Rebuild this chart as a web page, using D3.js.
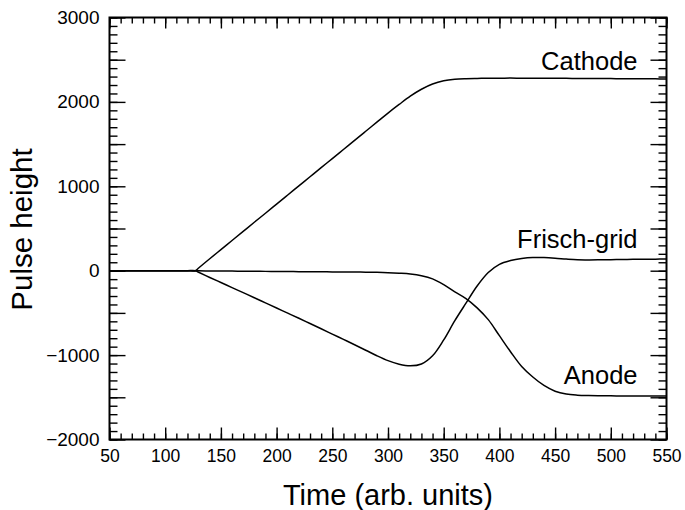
<!DOCTYPE html>
<html>
<head>
<meta charset="utf-8">
<script src="https://cdn.jsdelivr.net/npm/d3@7"></script>
<style>
  html, body { margin: 0; padding: 0; background: #fff; }
  svg { display: block; }
  text { font-family: "Liberation Sans", Arial, Helvetica, sans-serif; fill: #000; }
</style>
</head>
<body>
<svg id="chart" width="685" height="510"></svg>
<script>
// ---- Data ----
const time = [50, 60, 70, 80, 90, 100, 110, 120, 127, 130, 140, 150, 160, 170, 180, 190, 200,
  210, 220, 230, 240, 250, 260, 270, 280, 290, 300, 310, 320, 330, 340, 350, 360, 370, 380,
  390, 400, 410, 420, 430, 440, 450, 460, 470, 480, 490, 500, 510, 520, 530, 540, 550];

const cathode = [0, 0, 0, 0, 0, 0, 0, 0, 0, 32, 142, 250, 358, 466, 574, 681, 789,
  897, 1005, 1113, 1221, 1328, 1436, 1544, 1652, 1760, 1868, 1970, 2068, 2150, 2212, 2250, 2268, 2275, 2278,
  2280, 2281, 2282, 2281, 2280, 2280, 2279, 2279, 2278, 2277, 2277, 2276, 2275, 2275, 2274, 2273, 2272];

const frischGrid = [0, 0, 0, 0, 0, 0, 0, 0, 0, -18, -80, -140, -200, -260, -320, -381, -442,
  -503, -564, -626, -688, -751, -814, -877, -942, -1008, -1066, -1108, -1127, -1105, -1008, -820, -592, -385, -182,
  -22, 75, 120, 145, 157, 155, 148, 138, 130, 128, 129, 131, 133, 135, 136, 137, 138];

const anode = [0, 0, 0, 0, 0, 0, 0, 0, 0, -1, -3, -4, -5, -6, -7, -8, -9,
  -10, -11, -12, -13, -14, -15, -16, -17, -19, -23, -30, -40, -60, -97, -165, -250, -330, -440,
  -580, -770, -960, -1135, -1260, -1360, -1428, -1462, -1475, -1480, -1482, -1483, -1484, -1485, -1485, -1486, -1486];

const seriesNames = ["Cathode", "Frisch-grid", "Anode"];
const seriesValues = [cathode, frischGrid, anode];
const labelTime = [524, 524, 524];
const labelValue = [2378, 265, -1342];

const xMajorTicks = [50, 100, 150, 200, 250, 300, 350, 400, 450, 500, 550];
const yMajorTicks = [-2000, -1500, -1000, -500, 0, 500, 1000, 1500, 2000, 2500, 3000];
const yLabelTicks = [-2000, -1000, 0, 1000, 2000, 3000];

const xTitle = "Time (arb. units)";
const yTitle = "Pulse height";

// ---- Layout ----
const svg = d3.select("#chart");
const L = 109.5, R = 666.5, T = 17.5, B = 439.5;

const x = d3.scaleLinear().domain([50, 550]).range([L, R]);
const y = d3.scaleLinear().domain([-2000, 3000]).range([B, T]);

const xMinor = d3.range(50, 551, 10);
const yMinor = d3.range(-2000, 3001, 100);
const fmt = d3.format("d");

function styleAxis(g) {
  g.select(".domain").remove();
  g.selectAll(".tick line").attr("stroke", "#000").attr("stroke-width", 1.4);
}

// Bottom axis
svg.append("g").attr("transform", `translate(0,${B})`)
  .call(d3.axisBottom(x).tickValues(xMinor).tickSize(-6).tickFormat(""))
  .call(styleAxis);
svg.append("g").attr("transform", `translate(0,${B})`)
  .call(d3.axisBottom(x).tickValues(xMajorTicks).tickSize(-12).tickPadding(9).tickFormat(fmt))
  .call(styleAxis)
  .call(g => g.selectAll("text").attr("font-size", 17.5).attr("dy", "0.78em"));

// Top axis
svg.append("g").attr("transform", `translate(0,${T})`)
  .call(d3.axisTop(x).tickValues(xMinor).tickSize(-6).tickFormat(""))
  .call(styleAxis);
svg.append("g").attr("transform", `translate(0,${T})`)
  .call(d3.axisTop(x).tickValues(xMajorTicks).tickSize(-11).tickFormat(""))
  .call(styleAxis);

// Left axis
svg.append("g").attr("transform", `translate(${L},0)`)
  .call(d3.axisLeft(y).tickValues(yMinor).tickSize(-8).tickFormat(""))
  .call(styleAxis);
svg.append("g").attr("transform", `translate(${L},0)`)
  .call(d3.axisLeft(y).tickValues(yMajorTicks).tickSize(-16).tickFormat(""))
  .call(styleAxis);
svg.append("g").attr("transform", `translate(${L},0)`)
  .call(d3.axisLeft(y).tickValues(yLabelTicks).tickSize(0).tickPadding(10).tickFormat(d => d3.format("d")(d).replace("-", "\u2212")))
  .call(styleAxis)
  .call(g => g.selectAll("text").attr("font-size", 19));

// Right axis
svg.append("g").attr("transform", `translate(${R},0)`)
  .call(d3.axisRight(y).tickValues(yMinor).tickSize(-8).tickFormat(""))
  .call(styleAxis);
svg.append("g").attr("transform", `translate(${R},0)`)
  .call(d3.axisRight(y).tickValues(yMajorTicks).tickSize(-16).tickFormat(""))
  .call(styleAxis);

// Frame
svg.append("rect")
  .attr("x", L).attr("y", T).attr("width", R - L).attr("height", B - T)
  .attr("fill", "none").attr("stroke", "#000").attr("stroke-width", 2);

// Lines
const line = d3.line()
  .x((d, i) => x(time[i]))
  .y(d => y(d))
  .curve(d3.curveCatmullRom.alpha(0.5));

svg.append("g").selectAll("path")
  .data(seriesValues)
  .join("path")
  .attr("d", d => line(d))
  .attr("fill", "none")
  .attr("stroke", "#000")
  .attr("stroke-width", 1.5)
  .attr("stroke-linejoin", "round");

// Series labels
svg.append("g").selectAll("text")
  .data(seriesNames)
  .join("text")
  .attr("x", (d, i) => x(labelTime[i]))
  .attr("y", (d, i) => y(labelValue[i]))
  .attr("text-anchor", "end")
  .attr("font-size", 25.5)
  .text(d => d);

// Axis titles
svg.append("text")
  .attr("x", (L + R) / 2)
  .attr("y", 505)
  .attr("text-anchor", "middle")
  .attr("font-size", 29)
  .text(xTitle);

svg.append("text")
  .attr("transform", `translate(31.5,${(T + B) / 2 + 1}) rotate(-90)`)
  .attr("text-anchor", "middle")
  .attr("font-size", 29.5)
  .text(yTitle);
</script>
</body>
</html>
